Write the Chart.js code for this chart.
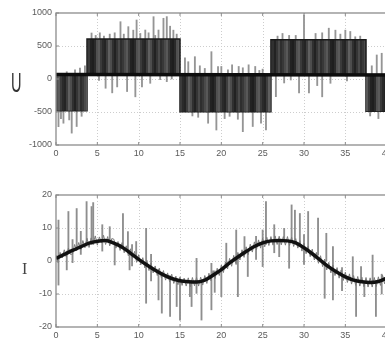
<!DOCTYPE html>
<html><head><meta charset="utf-8">
<script src="https://cdn.jsdelivr.net/npm/chart.js@4"></script>
<style>
html,body{margin:0;padding:0;background:#fff;overflow:hidden;width:385px;height:342px;}
#wrap{position:relative;width:385px;height:342px;overflow:hidden;}
.box{position:absolute;left:0;width:440px;height:171px;}
#b1{top:0}#b2{top:171px}
.lab{position:absolute;line-height:1;color:#333;white-space:nowrap;}
#labU{left:11px;top:67px;font:28px "Liberation Sans",Arial,sans-serif;transform:scaleX(0.52);transform-origin:0 0;}
#labI{left:22px;top:260px;font:16px "Liberation Serif","DejaVu Serif",serif;color:#444;}
</style></head>
<body><div id="wrap">
<div class="box" id="b1"><canvas id="c1" width="440" height="171"></canvas></div>
<div class="box" id="b2"><canvas id="c2" width="440" height="171"></canvas></div>
<div class="lab" id="labU">U</div>
<div class="lab" id="labI">I</div>
</div>
<script>
// ---------- U chart data ----------
const uXTicks = [0,5,10,15,20,25,30,35,40,45];
const uYTicks = [-1000,-500,0,500,1000];
// switching segments (start, end, low level, high level)
const uSegStart = [0, 3.75, 15, 26, 37.5];
const uSegEnd   = [3.75, 15, 26, 37.5, 45];
const uSegLow   = [-480, 65, -495, 65, -490];
const uSegHigh  = [65, 605, 65, 595, 65];
// centre line
const uCenterX = [0, 45];
const uCenterY = [68, 60];
// noise spikes (x, from, to)
const uSpikeX = [0.3,0.9,1.9,2.5,3.1,1.3,2.3,2.9,3.5,0.6,1.6,
  4.3,5.3,6.5,7.8,8.75,9.35,9.75,10.8,11.8,12.4,13.0,13.4,13.8,14.2,4.8,5.8,7.1,8.2,10.2,11.2,12.0,14.6,
  5.2,6.0,6.8,7.4,8.6,9.6,10.4,11.4,13.4,12.6,14.0,
  15.6,16.0,16.8,17.4,18.8,19.6,20.0,21.3,22.1,23.3,24.1,25.0,18.0,20.8,22.6,24.6,
  18.4,19.4,21.0,22.6,23.8,24.8,25.4,16.5,20.4,17.2,22.0,
  27.4,28.2,30.0,31.4,33.0,33.8,35.0,35.6,36.2,26.8,29.0,32.2,34.4,36.8,
  26.6,28.4,29.4,30.6,32.2,33.2,31.6,27.6,35.2,
  38.8,39.4,38.2,38.0,39.0];
const uSpikeLow = [-722,-670,-820,-720,-565,65,65,65,65,-600,-620,
  605,605,605,605,605,605,605,605,605,605,605,605,605,605,605,605,605,605,605,605,605,605,
  -20,-140,-210,-120,-190,-270,-120,-65,-40,-10,0,
  65,65,65,65,65,65,65,65,65,65,65,65,65,65,65,65,
  -670,-773,-565,-798,-720,-670,-770,-560,-600,-580,-610,
  595,595,595,595,595,595,595,595,595,595,595,595,595,595,
  -268,-15,-210,-210,-270,-65,-100,-60,-30,
  65,65,65,-560,-600];
const uSpikeHigh = [-480,-480,-480,-480,-480,110,140,165,200,-480,-480,
  697,700,680,868,793,740,894,742,944,742,920,945,800,740,660,650,700,680,690,700,660,680,
  65,65,65,65,65,65,65,65,65,65,65,
  320,262,338,200,414,187,190,215,190,215,190,150,160,140,170,130,
  -495,-495,-495,-495,-495,-495,-495,-495,-495,-495,-495,
  690,660,970,690,770,740,740,720,640,650,660,700,680,650,
  65,65,65,65,65,65,65,65,65,
  364,390,200,-490,-490];

// ---------- I chart data ----------
const iXTicks = [0,5,10,15,20,25,30,35,40,45];
const iYTicks = [-20,-10,0,10,20];
const iSmoothX = [0,1,2,3,4,5,6,7,8,9,10,11,12,13,14,15,16,17,18,19,20,21,22,23,24,25,26,27,28,29,30,31,32,33,34,35,36,37,38,39,40,41,42,43,44,45];
const iSmoothY = [0.8,2.0,3.2,4.3,5.4,6.0,6.2,5.4,4.2,2.4,0.5,-1.2,-2.8,-4.2,-5.3,-6.0,-6.3,-6.4,-5.8,-4.3,-2.6,-0.6,1.2,2.9,4.4,5.5,6.1,6.2,6.1,5.5,4.0,2.2,0.2,-1.8,-3.4,-4.8,-5.8,-6.3,-6.5,-6.2,-5.2,-3.8,-2.0,-0.2,1.6,3.2];
// small measurement jitter, sampled every iNoiseStep
const iNoiseStep = 0.25;
const iNoiseY = [
 1.8,-0.5,2.6,0.9, 3.4,1.2,3.9,2.0, 2.1,5.0,3.1,5.6, 3.4,6.2,4.0,6.9,
 4.1,7.0,5.2,7.6, 4.8,7.3,5.5,7.8, 5.0,7.4,4.6,6.8, 6.6,3.9,5.9,3.2,
 5.6,2.5,4.6,1.6, 3.7,0.8,2.9,-0.4, 1.9,-1.2,1.0,-2.1, 0.2,-2.9,-0.6,-3.6,
 -1.5,-4.4,-2.2,-5.1, -2.9,-5.8,-3.6,-6.3, -4.0,-6.8,-4.6,-7.2, -4.8,-7.4,-5.2,-7.6,
 -5.1,-7.8,-5.0,-7.5, -5.0,-7.6,-4.9,-7.3, -4.4,-6.8,-3.7,-6.0, -2.9,-5.3,-2.2,-4.4,
 -1.2,-3.5,-0.3,-2.4, 0.8,-1.6,1.7,-0.7, 2.6,0.3,3.4,1.1, 4.3,1.9,5.1,2.7,
 5.8,3.4,6.4,3.9, 6.9,4.3,7.2,4.7, 7.4,4.8,7.6,5.0, 7.5,4.9,7.4,4.8,
 7.4,4.7,7.2,4.4, 6.8,3.9,6.2,3.0, 5.4,2.2,4.5,1.3, 3.6,0.3,2.6,-0.7,
 1.6,-1.7,0.6,-2.7, -0.4,-3.6,-1.2,-4.4, -2.0,-5.2,-2.7,-5.9, -3.4,-6.5,-3.9,-7.0,
 -4.4,-7.4,-4.7,-7.6, -4.9,-7.8,-5.0,-7.9, -5.1,-7.9,-5.0,-7.7, -4.8,-7.4,-4.3,-6.9,
 -3.8,-6.3,-3.1,-5.6, -3.8];
// current spikes (x, from, to)
const iSpikeX = [0.3,1.3,1.5,2.5,3.7,4.3,4.5,6.5,7.1,8.1,8.7,8.9,9.7,10.9,
  12.4,12.8,13.8,14.6,15.0,16.2,16.4,17.0,17.6,18.8,20.0,20.6,21.8,22.0,22.8,23.2,
  25.0,25.4,27.0,27.6,28.2,28.5,28.9,29.5,30.5,31.7,32.5,32.7,33.5,35.9,36.3,36.9,37.3,38.3,38.7,
  2.0,3.0,5.6,9.2,11.5,19.2,24.2,26.4,30.0,34.6,39.4];
const iSpikeLow = [-7.3,-2.7,2.5,3.5,4.5,5.0,5.0,6.0,-1.2,4.0,3.0,-2.7,1.5,-12.8,
  -11.8,-15.8,-16.8,-13.8,-17.9,-10.8,-13.8,-9.8,-17.9,-14.8,-10.8,-2.0,-1.0,-10.8,2.0,-4.7,
  -1.7,5.0,1.3,6.0,-2.2,6.0,5.5,5.0,3.0,1.8,-11.3,0.0,-11.8,-5.0,-16.8,-6.0,-10.8,-6.5,-16.8,
  -0.5,2.0,3.0,-1.5,-6.0,-9.5,0.5,2.5,-1.0,-9.0,-10.0];
const iSpikeHigh = [12.4,3.0,15.0,15.9,18.0,16.5,17.7,10.4,5.5,14.4,8.9,3.0,5.9,9.9,
  -2.5,-3.5,-4.5,-5.3,-5.8,-6.0,-6.0,0.8,-6.0,-0.7,-2.5,5.4,9.4,1.0,7.4,2.5,
  9.4,18.0,6.0,9.9,6.0,17.0,15.4,14.4,15.0,13.0,0.0,8.4,4.4,1.3,-5.5,-1.7,-6.3,1.8,-6.5,
  6.5,9.0,11.0,5.0,2.0,-3.0,7.5,11.0,8.0,-2.0,-4.0];

// ---------- styling ----------
const TICK_COLOR = '#5a5a5a';
const FONT = {family: '"Liberation Sans", Arial, sans-serif', size: 9};
const stripeShades = ['#2e2e2e','#383838','#4a4a4a','#585858','#3a3a3a','#222','#1e1e1e','#2a2a2a',
  '#505050','#5a5a5a','#3a3a3a','#2a2a2a','#242424','#3e3e3e','#606060','#4d4d4d','#303030','#222','#353535','#4a4a4a'];

function stripePattern() {
  const c = document.createElement('canvas');
  const w = 2;
  c.width = stripeShades.length * w; c.height = 4;
  const g = c.getContext('2d');
  stripeShades.forEach((s, i) => { g.fillStyle = s; g.fillRect(i * w, 0, w, 4); });
  return g.createPattern(c, 'repeat');
}

const framePlugin = {
  id: 'frame',
  beforeDatasetsDraw(chart) {
    const {ctx, chartArea: a, scales} = chart;
    ctx.save();
    ctx.strokeStyle = '#cdcdcd'; ctx.lineWidth = 1; ctx.setLineDash([1, 2]);
    ctx.beginPath();
    scales.x.ticks.forEach(t => { const p = Math.round(scales.x.getPixelForValue(t.value)) + 0.5;
      if (p > a.left + 1 && p < a.right - 1) { ctx.moveTo(p, a.top); ctx.lineTo(p, a.bottom); } });
    scales.y.ticks.forEach(t => { const p = Math.round(scales.y.getPixelForValue(t.value)) + 0.5;
      if (p > a.top + 1 && p < a.bottom - 1) { ctx.moveTo(a.left, p); ctx.lineTo(a.right, p); } });
    ctx.stroke();
    ctx.restore();
  },
  afterDraw(chart) {
    const {ctx, chartArea: a, scales} = chart;
    ctx.save();
    ctx.strokeStyle = '#8c8c8c'; ctx.lineWidth = 1.3;
    ctx.strokeRect(a.left, a.top, a.width, a.height);
    ctx.lineWidth = 1;
    ctx.beginPath();
    scales.x.ticks.forEach(t => { const p = scales.x.getPixelForValue(t.value);
      ctx.moveTo(p, a.bottom); ctx.lineTo(p, a.bottom - 3); ctx.moveTo(p, a.top); ctx.lineTo(p, a.top + 3); });
    scales.y.ticks.forEach(t => { const p = scales.y.getPixelForValue(t.value);
      ctx.moveTo(a.left, p); ctx.lineTo(a.left + 3, p); ctx.moveTo(a.right, p); ctx.lineTo(a.right - 3, p); });
    ctx.stroke();
    ctx.restore();
  }
};

function axisX(ticksArr, h) {
  return {
    type: 'linear', offset: false, min: ticksArr[0], max: ticksArr[ticksArr.length - 1],
    afterBuildTicks: s => { s.ticks = ticksArr.map(v => ({value: v})); },
    ticks: {color: TICK_COLOR, font: FONT, padding: 3, maxRotation: 0, autoSkip: false, callback: v => String(v)},
    grid: {display: false, drawTicks: false, offset: false}, border: {display: false},
    afterFit: s => { s.height = h; }
  };
}
function axisY(ticksArr) {
  return {
    type: 'linear', min: ticksArr[0], max: ticksArr[ticksArr.length - 1],
    afterBuildTicks: s => { s.ticks = ticksArr.map(v => ({value: v})); },
    ticks: {color: TICK_COLOR, font: FONT, padding: 4, autoSkip: false, callback: v => String(v)},
    grid: {display: false, drawTicks: false}, border: {display: false},
    afterFit: s => { s.width = 56; }
  };
}

const common = {
  responsive: false, animation: false, devicePixelRatio: 1,
  plugins: {legend: {display: false}, tooltip: {enabled: false}},
  elements: {point: {radius: 0}}
};

// ---------- chart U ----------
function bandPoints(levels) {
  const pts = [];
  uSegStart.forEach((s, i) => { pts.push({x: s, y: levels[i]}); pts.push({x: uSegEnd[i], y: levels[i]}); });
  return pts;
}
new Chart(document.getElementById('c1'), {
  type: 'line',
  data: {datasets: [
    {data: uCenterX.map((x, i) => ({x, y: uCenterY[i]})), borderColor: '#0d0d0d', borderWidth: 3.5, pointRadius: 0},
    {data: bandPoints(uSegHigh), borderColor: '#1a1a1a', borderWidth: 1.5, pointRadius: 0, tension: 0,
      fill: '+1', backgroundColor: stripePattern()},
    {data: bandPoints(uSegLow), borderColor: '#1a1a1a', borderWidth: 1.5, pointRadius: 0, tension: 0, fill: false},
    {type: 'bar', data: uSpikeX.map((x, i) => ({x, y: [uSpikeLow[i], uSpikeHigh[i]]})),
      backgroundColor: '#959595', barThickness: 1.2, borderWidth: 0}
  ]},
  options: Object.assign({}, common, {
    layout: {padding: {top: 13, right: 12, left: 0, bottom: 0}},
    scales: {x: axisX(uXTicks, 26), y: axisY(uYTicks)}
  }),
  plugins: [framePlugin]
});

// ---------- chart I ----------
new Chart(document.getElementById('c2'), {
  type: 'line',
  data: {datasets: [
    {data: iSmoothX.map((x, i) => ({x, y: iSmoothY[i]})), borderColor: '#111', borderWidth: 3.5,
      pointRadius: 0, tension: 0.4, cubicInterpolationMode: 'monotone'},
    {data: iNoiseY.map((y, i) => ({x: i * iNoiseStep, y})), borderColor: '#7a7a7a', borderWidth: 1, pointRadius: 0, tension: 0},
    {type: 'bar', data: iSpikeX.map((x, i) => ({x, y: [iSpikeLow[i], iSpikeHigh[i]]})),
      backgroundColor: '#8e8e8e', barThickness: 1.2, borderWidth: 0}
  ]},
  options: Object.assign({}, common, {
    layout: {padding: {top: 24, right: 12, left: 0, bottom: 0}},
    scales: {x: axisX(iXTicks, 15), y: axisY(iYTicks)}
  }),
  plugins: [framePlugin]
});
</script>
</body></html>
